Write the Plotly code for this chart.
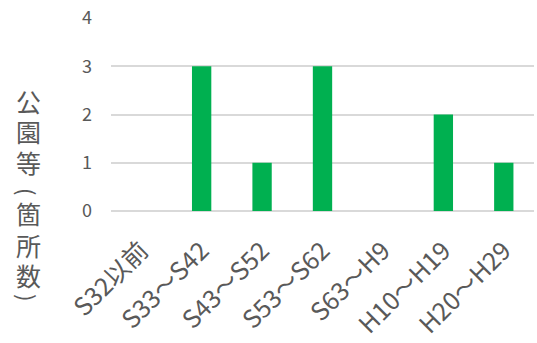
import plotly.graph_objects as go

categories = ["S32以前", "S33～S42", "S43～S52", "S53～S62", "S63～H9", "H10～H19", "H20～H29"]
counts = [0, 3, 1, 3, 0, 2, 1]
y_ticks = [0, 1, 2, 3, 4]
title_chars = ["公", "園", "等", "(", "箇", "所", "数", ")"]

FONT = "Noto Sans CJK JP, Noto Sans, sans-serif"
XFONT = "Noto Sans CJK JP, sans-serif"
GRAY = "#595959"

fig = go.Figure(go.Bar(
    x=categories, y=counts,
    marker=dict(color="#00B050", line=dict(width=0)),
    width=0.32,
))

L, R, T, B = 111, 3, 18, 132
W, H = 537, 343
plot_h = H - T - B
plot_w = W - L - R


def px_x(px):
    return (px - L) / plot_w


def px_y(py):
    return (H - B - py) / plot_h


# vertical stacking of the axis title (pixel centres of each character cell)
title_centres = [101, 131, 162, 191, 213, 245, 275, 297]
for ch, cy in zip(title_chars, title_centres):
    is_paren = ch in "()"
    fig.add_annotation(
        text=ch, xref="paper", yref="paper",
        x=px_x(28), y=px_y(cy), textangle=90 if is_paren else 0,
        xanchor="center", yanchor="middle", showarrow=False,
        font=dict(family=FONT, size=22 if is_paren else 25, color=GRAY),
    )

fig.update_layout(
    width=W, height=H,
    margin=dict(l=L, r=R, t=T, b=B, pad=0),
    paper_bgcolor="white", plot_bgcolor="white",
    font=dict(family=FONT, color=GRAY),
    showlegend=False,
    xaxis=dict(
        tickangle=-45, tickfont=dict(size=25, color=GRAY, family=XFONT),
        showgrid=False, showline=False, ticks="", automargin=False,
        ticklabelstandoff=19,
    ),
    yaxis=dict(
        range=[0, 4], tickvals=y_ticks, ticktext=[str(v) for v in y_ticks],
        tickfont=dict(size=18, color=GRAY, family=FONT),
        showgrid=True, gridcolor="#D9D9D9", gridwidth=1.5,
        zeroline=True, zerolinecolor="#D9D9D9", zerolinewidth=1.5,
        showline=False, ticks="", ticklabelstandoff=18, automargin=False,
    ),
)

fig.write_html("out.html", config={"displayModeBar": False},
               post_script="document.body.style.margin='0px';")
